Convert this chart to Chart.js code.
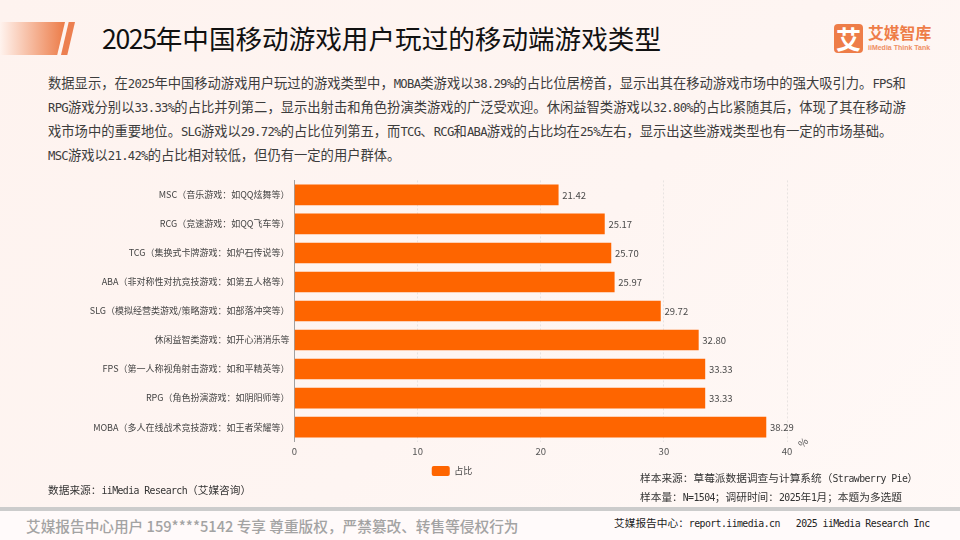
<!DOCTYPE html>
<html lang="zh-CN"><head><meta charset="utf-8">
<script src="https://cdn.jsdelivr.net/npm/chart.js@4"></script>
<style>
html,body{margin:0;padding:0}
body{width:960px;height:540px;overflow:hidden;position:relative;background:linear-gradient(135deg,#fef3ef 0%,#fef5f2 55%,#fff9f7 100%);font-family:"Noto Sans CJK SC",sans-serif;}
.t{position:absolute;white-space:nowrap;line-height:1;}
.l{font-family:"DejaVu Sans Mono";font-size:.92em;}
.d{letter-spacing:-.05em;}
#bar1{position:absolute;left:0;top:22px;width:65px;height:33px;background:linear-gradient(90deg,#fff3ee,#ec7b47);clip-path:polygon(0 0,100% 0,88% 100%,0 100%);}
#bar2{position:absolute;left:61px;top:22px;width:14px;height:33px;background:#ec7f50;clip-path:polygon(55% 0,100% 0,45% 100%,0 100%);}
#logo{position:absolute;left:834px;top:24px;width:29px;height:29px;border-radius:4px;background:#ee7d48;color:#fff;font:700 25px/29px "Noto Sans CJK SC";text-align:center;}
#rule{position:absolute;left:0;top:507px;width:960px;height:4px;background:#cccccc;}
#foot{position:absolute;left:0;top:511px;width:960px;height:29px;background:#fffafa;}
#c{position:absolute;left:0;top:170px;}
.b{font-size:13.3px;color:#3c3c3c;left:48px;}
.s{font-size:10.7px;color:#333;}
</style></head><body>
<div id="bar1"></div><div id="bar2"></div>
<div class="t" style="left:102px;top:25px;font-size:26.6px;color:#111"><span class="d">2025</span>年中国移动游戏用户玩过的移动端游戏类型</div>
<div id="logo">艾</div>
<div class="t" style="left:868px;top:25px;font:700 15.8px/1 'Noto Sans CJK SC';color:#ee7d48">艾媒智库</div>
<div class="t" style="left:868px;top:44px;font:700 7px/1 'Liberation Sans';color:#ee8f63">iiMedia Think Tank</div>
<div class="t b m" style="top:76px">数据显示，在2025年中国移动游戏用户玩过的游戏类型中，MOBA类游戏以38.29%的占比位居榜首，显示出其在移动游戏市场中的强大吸引力。FPS和</div>
<div class="t b m" style="top:100px">RPG游戏分别以33.33%的占比并列第二，显示出射击和角色扮演类游戏的广泛受欢迎。休闲益智类游戏以32.80%的占比紧随其后，体现了其在移动游</div>
<div class="t b m" style="top:124px">戏市场中的重要地位。SLG游戏以29.72%的占比位列第五，而TCG、RCG和ABA游戏的占比均在25%左右，显示出这些游戏类型也有一定的市场基础。</div>
<div class="t b m" style="top:148px">MSC游戏以21.42%的占比相对较低，但仍有一定的用户群体。</div>
<canvas id="c" width="904" height="316" style="width:904px;height:316px"></canvas>
<div class="t s m" style="left:48px;top:485px">数据来源：iiMedia Research（艾媒咨询）</div>
<div class="t s m" style="left:640px;top:473px">样本来源：草莓派数据调查与计算系统（Strawberry Pie）</div>
<div class="t s m" style="left:640px;top:492px">样本量：N=1504；调研时间：2025年1月；本题为多选题</div>
<div id="rule"></div><div id="foot"></div>
<div class="t" style="left:26px;top:519px;font:500 14.66px/1 'Noto Sans CJK SC';color:#a3a3a3">艾媒报告中心用户 159****5142 专享 尊重版权，严禁篡改、转售等侵权行为</div>
<div class="t s m" style="left:614px;top:518px;color:#222">艾媒报告中心：report.iimedia.cn   2025 iiMedia Research Inc</div>
<script>
document.querySelectorAll(".m").forEach(e=>{
  e.style.whiteSpace="pre";
  e.innerHTML=e.textContent.replace(/[\x20-\x7e]+/g,r=>'<span class="l">'+r+'</span>');
  const em=parseFloat(getComputedStyle(e).fontSize);
  e.querySelectorAll(".l").forEach(sp=>{
    const n=sp.textContent.length,w=sp.getBoundingClientRect().width;
    sp.style.letterSpacing=((n*em*0.5-w)/n)+"px";
  });
});
const categories=["MSC（音乐游戏：如QQ炫舞等）","RCG（竞速游戏：如QQ飞车等）","TCG（集换式卡牌游戏：如炉石传说等）","ABA（非对称性对抗竞技游戏：如第五人格等）","SLG（模拟经营类游戏/策略游戏：如部落冲突等）","休闲益智类游戏：如开心消消乐等","FPS（第一人称视角射击游戏：如和平精英等）","RPG（角色扮演游戏：如阴阳师等）","MOBA（多人在线战术竞技游戏：如王者荣耀等）"];
const shares=[21.42,25.17,25.70,25.97,29.72,32.80,33.33,33.33,38.29];
const seriesName="占比";
const unit="%";
const font="'Noto Sans CJK SC'";
const valueLabels={id:"valueLabels",
 afterLayout(ch){const d=58.5;ch.legend.left+=d;ch.legend.right+=d;},
 afterDatasetsDraw(ch){
  const g=ch.ctx,m=ch.getDatasetMeta(0),x=ch.scales.x,y=ch.scales.y;
  g.save();g.fillStyle="#4a4a4a";g.font="9.5px "+font;g.textBaseline="middle";g.textAlign="left";
  m.data.forEach((b,i)=>g.fillText(shares[i].toFixed(2),b.x+4,b.y));
  g.translate(x.right+16,y.bottom+1);g.rotate(-Math.PI/4);g.textAlign="center";g.fillStyle="#555";g.font="10px "+font;g.fillText(unit,0,0);
  g.restore();
}};
new Chart(document.getElementById("c"),{type:"bar",plugins:[valueLabels],
 data:{labels:categories,datasets:[{label:seriesName,data:shares,backgroundColor:"#fe6500",borderWidth:0,barThickness:20}]},
 options:{indexAxis:"y",responsive:false,animation:false,
  layout:{padding:{top:9,right:117,left:0,bottom:0}},
  plugins:{tooltip:{enabled:false},
   legend:{position:"bottom",labels:{boxWidth:18,boxHeight:10,useBorderRadius:true,borderRadius:2,padding:5,color:"#444",font:{size:9,family:font}}}},
  scales:{
   x:{min:0,max:40,ticks:{stepSize:10,color:"#555",padding:4,font:{size:9.5,family:font}},
      grid:{color:"#e8e3e1",drawTicks:false,tickLength:0},border:{display:false,dash:[2,2]}},
   y:{afterFit(s){s.width=294.5;},ticks:{color:"#444",padding:5,autoSkip:false,font:{size:9,family:font}},
      grid:{display:false,drawTicks:false},border:{color:"#a0a0a0"}}
  }}});
</script>
</body></html>
